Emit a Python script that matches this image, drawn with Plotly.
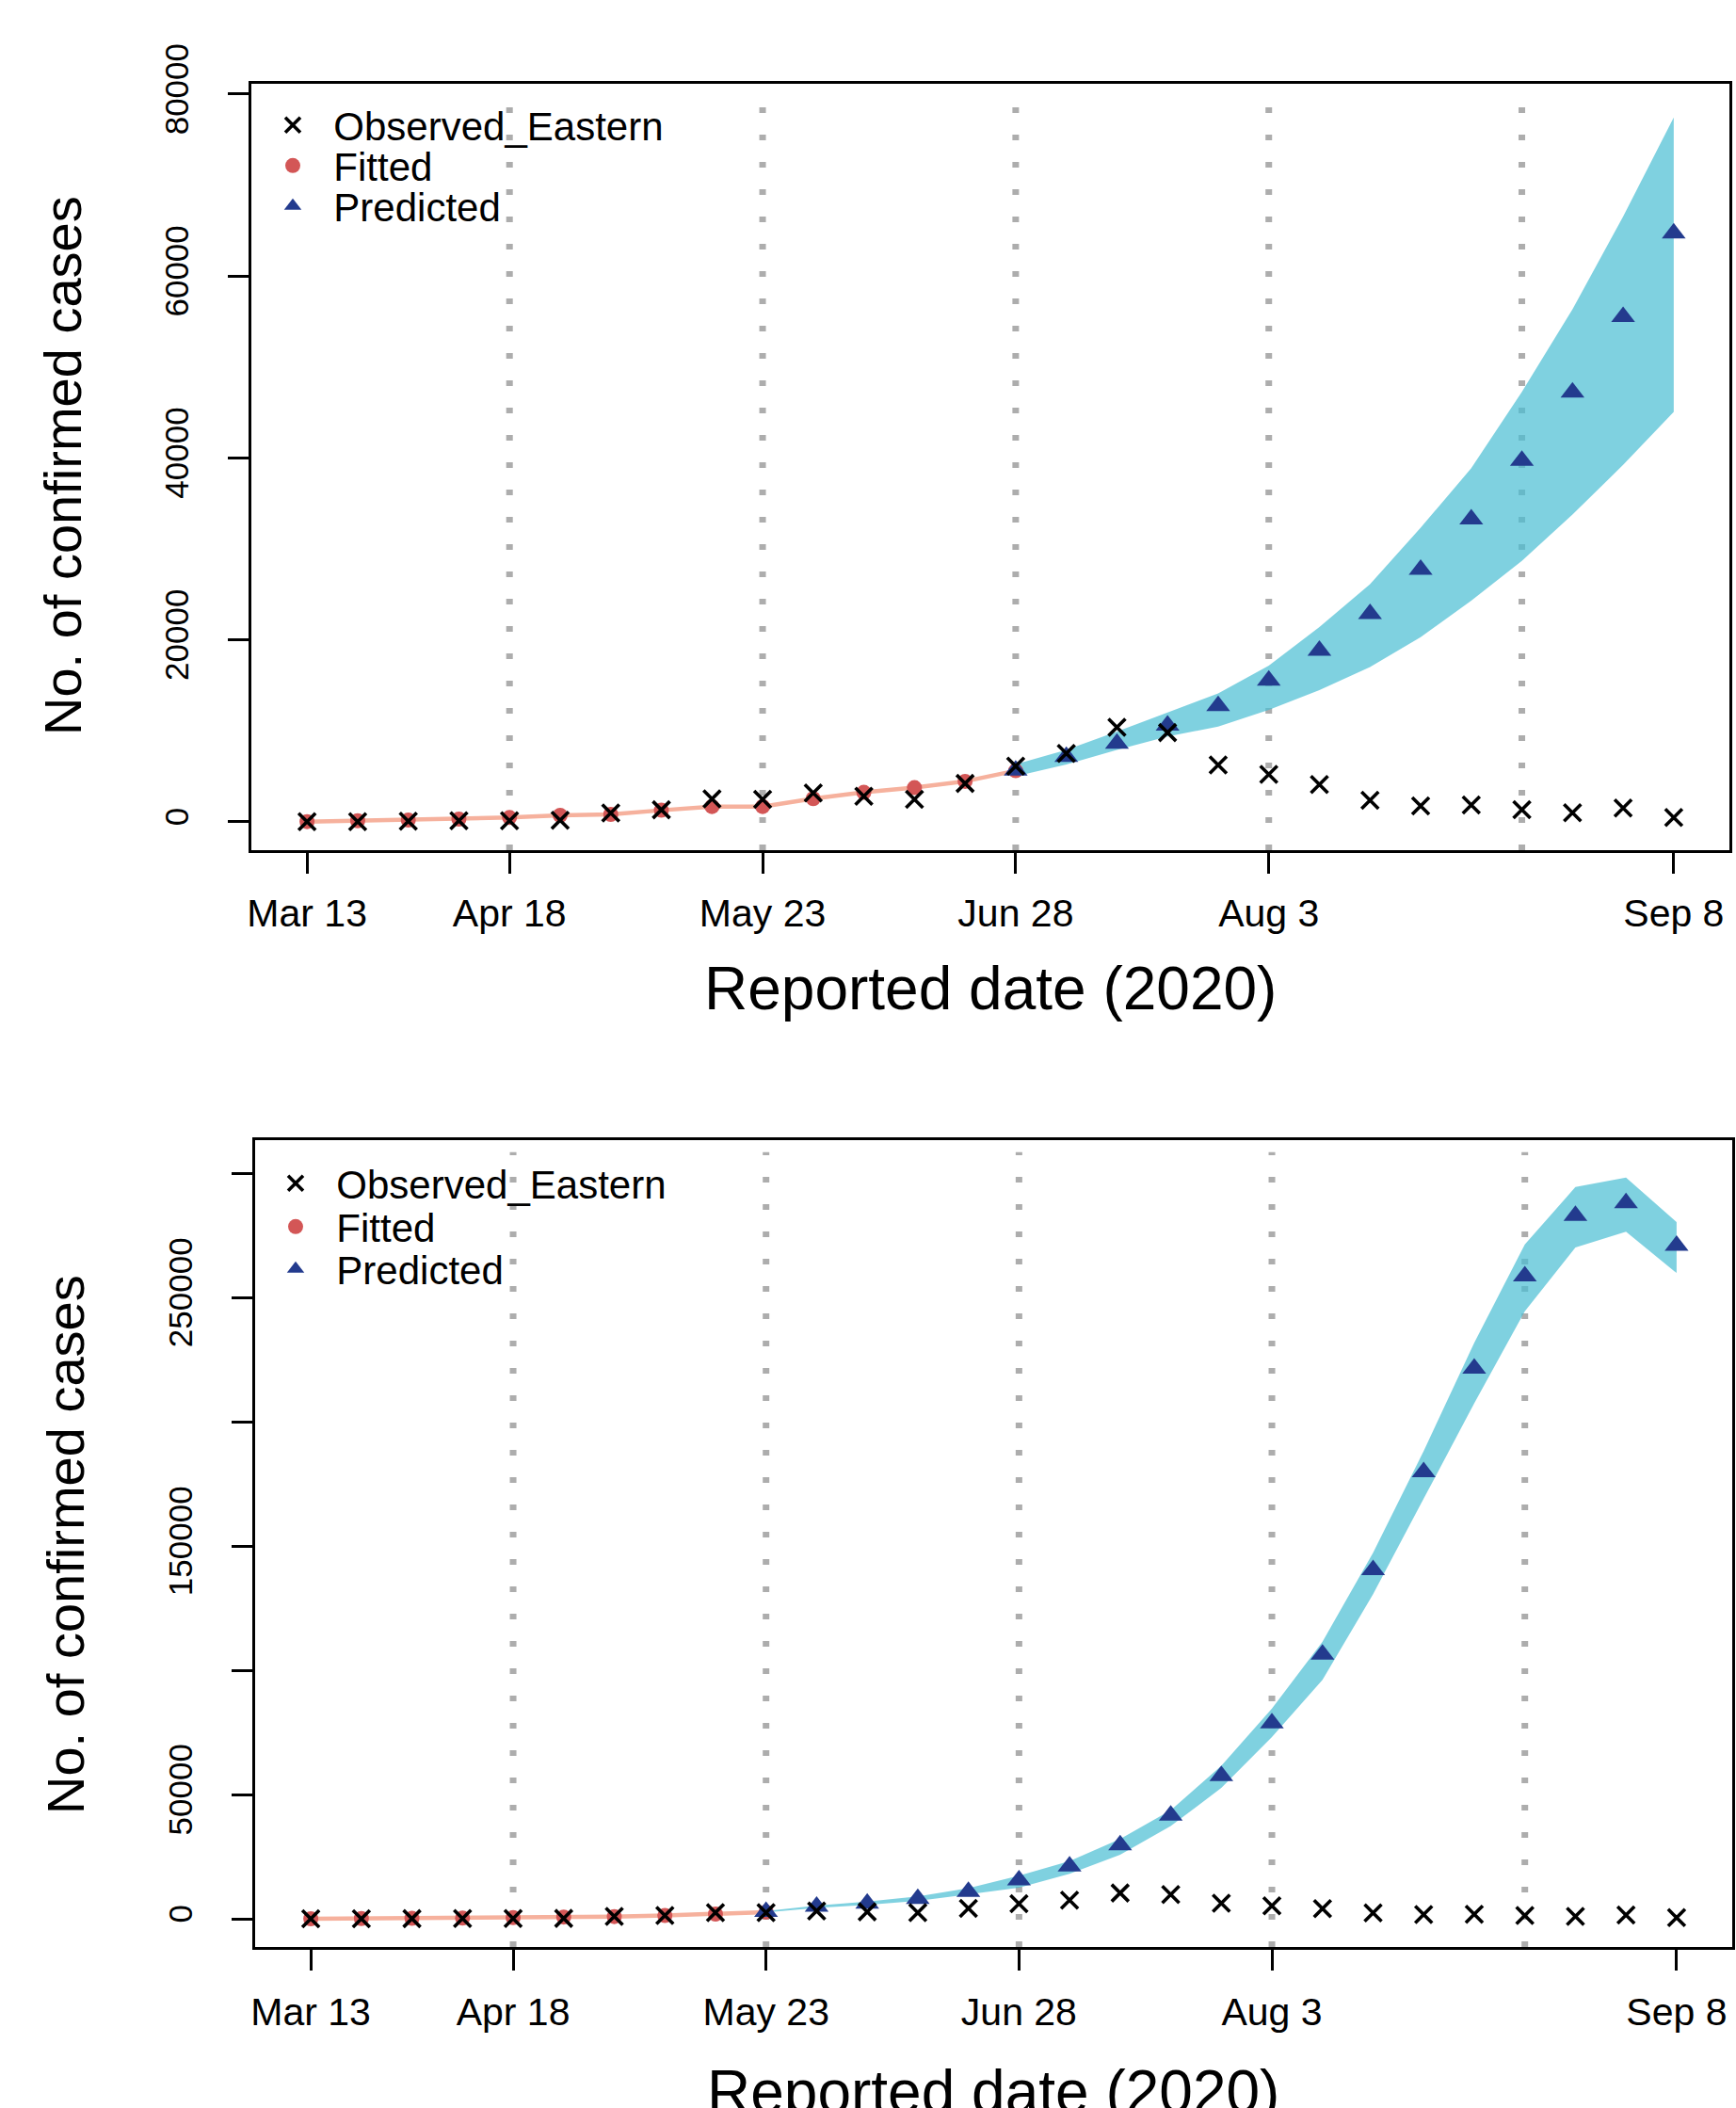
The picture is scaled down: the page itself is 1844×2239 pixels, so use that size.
import plotly.graph_objects as go

W, H = 1844, 2239

# ---------------- data ----------------
idx = list(range(1, 29))  # reporting periods (weekly index)
tick_idx = [1, 5, 10, 15, 20, 28]
tick_text = ["Mar 13", "Apr 18", "May 23", "Jun 28", "Aug 3", "Sep 8"]
guide_idx = [5, 10, 15, 20, 25]

observed = [0, 0, 50, 100, 100, 150, 950, 1300, 2500, 2450, 3150, 2800, 2450, 4200,
            6100, 7500, 10380, 9790, 6230, 5190, 4080, 2350, 1730, 1830, 1310, 970, 1490, 450]

# panel 1 (fit through Jun 28)
fit1_idx = list(range(1, 16))
fit1 = [0, 100, 170, 280, 450, 690, 800, 1250, 1660, 1660, 2530, 3220, 3740, 4430, 5600]
pred1_idx = list(range(15, 29))
pred1 = [5640, 7130, 8580, 10590, 12730, 15530, 18800, 22850, 27700, 33260, 39700, 47200, 55500, 64700]
pred1_lo = [5000, 6290, 7900, 9360, 10460, 12280, 14460, 17010, 20290, 24290, 28660, 33760, 39220, 45040]
pred1_hi = [6300, 7900, 9900, 12000, 14100, 17160, 21390, 26120, 32310, 38860, 47240, 56340, 66530, 77440]

# panel 2 (fit through May 23)
fit2_idx = list(range(1, 11))
fit2 = [0, 100, 170, 280, 450, 690, 900, 1300, 1900, 2700]
pred2_idx = list(range(10, 29))
pred2 = [2800, 4900, 6200, 8100, 10900, 15500, 21160, 29600, 41620, 57480, 78710, 106340,
         140360, 179750, 221440, 258530, 282830, 287950, 270800]
pred2_lo = [2600, 4400, 5600, 7200, 9700, 12460, 18080, 25760, 37270, 52620, 73080, 96100,
            130630, 169000, 207370, 244460, 270040, 276440, 259810]
pred2_hi = [3100, 5300, 6900, 9000, 12300, 17320, 23200, 32150, 43670, 61570, 84590, 111450,
            147260, 188190, 231680, 271330, 294370, 298210, 280300]

y1_ticks = [0, 20000, 40000, 60000, 80000]
y1_text = ["0", "20000", "40000", "60000", "80000"]
y2_ticks = [0, 50000, 100000, 150000, 200000, 250000, 300000]
y2_text = ["0", "50000", "", "150000", "", "250000", ""]

# ---------------- style ----------------
FONT = "Liberation Sans, Arial, Helvetica, sans-serif"
BAND = "rgba(72,189,211,0.70)"
SALMON = "#F6B19D"
RED = "#D35656"
NAVY = "#233B8E"
GUIDE = "#ADADAD"
NB = "\u00a0\u00a0"

fig = go.Figure()


def add_panel(fig, xa, ya, fit_idx, fit, p_idx, pred, lo, hi, legs):
    # prediction band
    fig.add_trace(go.Scatter(x=p_idx + p_idx[::-1], y=hi + lo[::-1], fill="toself",
                             fillcolor=BAND, line=dict(width=0), mode="lines",
                             hoverinfo="skip", showlegend=False, xaxis=xa, yaxis=ya))
    # fitted curve
    fig.add_trace(go.Scatter(x=fit_idx, y=fit, mode="lines", line=dict(color=SALMON, width=4.5),
                             showlegend=False, hoverinfo="skip", xaxis=xa, yaxis=ya))
    # fitted points
    fig.add_trace(go.Scatter(x=fit_idx, y=fit, mode="markers", name=NB + "Fitted",
                             marker=dict(symbol="circle", size=16, color=RED, line=dict(width=0)),
                             legend=legs[1], xaxis=xa, yaxis=ya))
    # predicted points
    fig.add_trace(go.Scatter(x=p_idx, y=pred, mode="markers", name=NB + "Predicted",
                             marker=dict(symbol="triangle-up", size=22, color=NAVY, line=dict(width=0)),
                             legend=legs[2], xaxis=xa, yaxis=ya))
    # observed
    fig.add_trace(go.Scatter(x=idx, y=observed, mode="markers", name=NB + "Observed_Eastern",
                             marker=dict(symbol="x-thin", size=18, color="black",
                                         line=dict(width=3.6, color="black")),
                             legend=legs[0], xaxis=xa, yaxis=ya))


add_panel(fig, "x", "y", fit1_idx, fit1, pred1_idx, pred1, pred1_lo, pred1_hi,
          ["legend", "legend2", "legend3"])
add_panel(fig, "x2", "y2", fit2_idx, fit2, pred2_idx, pred2, pred2_lo, pred2_hi,
          ["legend4", "legend5", "legend6"])

# dotted guide lines
for xa, ya in (("x", "y"), ("x2", "y2")):
    for g in guide_idx:
        fig.add_shape(type="line", xref=xa, yref=ya + " domain", x0=g, x1=g, y0=0.0, y1=0.985,
                      line=dict(color=GUIDE, width=7, dash="6px,23px"), layer="below")

axis_common = dict(showline=True, linecolor="black", linewidth=3, mirror=True,
                   ticks="outside", ticklen=22, tickwidth=3, tickcolor="black",
                   showgrid=False, zeroline=False, automargin=False)

fig.update_layout(
    width=W, height=H, margin=dict(l=0, r=0, t=0, b=0, pad=0, autoexpand=False),
    paper_bgcolor="white", plot_bgcolor="white",
    font=dict(family=FONT, color="black"),
    xaxis=dict(domain=[267 / W, 1837 / W], anchor="y", range=[-0.1, 29.1],
               tickmode="array", tickvals=tick_idx, ticktext=tick_text,
               tickfont=dict(size=41), ticklabelstandoff=7, **axis_common),
    yaxis=dict(domain=[1 - 903 / H, 1 - 88.6 / H], anchor="x", range=[-3137, 81170],
               tickmode="array", tickvals=y1_ticks, ticktext=y1_text, tickangle=-90,
               tickfont=dict(size=35), ticklabelstandoff=28, **axis_common),
    xaxis2=dict(domain=[271 / W, 1840 / W], anchor="y2", range=[-0.1, 29.1],
                tickmode="array", tickvals=tick_idx, ticktext=tick_text,
                tickfont=dict(size=41), ticklabelstandoff=9, **axis_common),
    yaxis2=dict(domain=[1 - 2068 / H, 1 - 1211 / H], anchor="x2", range=[-11360, 313260],
                tickmode="array", tickvals=y2_ticks, ticktext=y2_text, tickangle=-90,
                tickfont=dict(size=35), ticklabelstandoff=28, **axis_common),
)

# legends: one per entry for exact placement
leg_rows = {"legend": 133, "legend2": 176, "legend3": 219,
            "legend4": 1257, "legend5": 1303, "legend6": 1348}
for name, yc in leg_rows.items():
    left = 291 if name in ("legend", "legend2", "legend3") else 294
    fig.update_layout({name: dict(x=left / W, y=1 - yc / H, xanchor="left", yanchor="middle",
                                  bgcolor="rgba(0,0,0,0)", borderwidth=0,
                                  font=dict(size=42, family=FONT, color="black"),
                                  itemwidth=30)})

# axis titles
fig.add_annotation(text="Reported date (2020)", x=1052 / W, y=1 - 1050 / H, xref="paper", yref="paper",
                   showarrow=False, xanchor="center", yanchor="middle", font=dict(size=64, family=FONT))
fig.add_annotation(text="No. of confirmed cases", x=66 / W, y=1 - 495 / H, xref="paper", yref="paper",
                   showarrow=False, textangle=-90, xanchor="center", yanchor="middle",
                   font=dict(size=56, family=FONT))
fig.add_annotation(text="Reported date (2020)", x=1055 / W, y=1 - 2222 / H, xref="paper", yref="paper",
                   showarrow=False, xanchor="center", yanchor="middle", font=dict(size=64, family=FONT))
fig.add_annotation(text="No. of confirmed cases", x=69 / W, y=1 - 1641 / H, xref="paper", yref="paper",
                   showarrow=False, textangle=-90, xanchor="center", yanchor="middle",
                   font=dict(size=56, family=FONT))

fig.write_html("out.html")
